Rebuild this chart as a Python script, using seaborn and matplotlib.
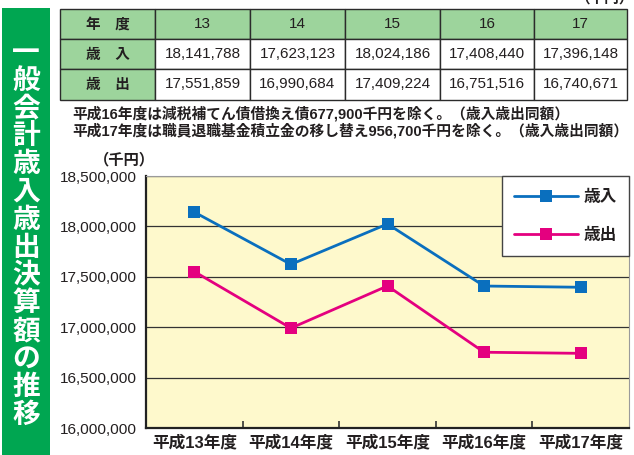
import matplotlib
matplotlib.use('Agg')
import matplotlib.pyplot as plt
from matplotlib.patches import Rectangle
from matplotlib.ticker import FixedLocator, FuncFormatter
import seaborn as sns
import pandas as pd

# ---------------- data ----------------
year_codes = ['13', '14', '15', '16', '17']
x_labels = ['平成13年度', '平成14年度', '平成15年度', '平成16年度', '平成17年度']
revenue = [18141788, 17623123, 18024186, 17408440, 17396148]
expenditure = [17551859, 16990684, 17409224, 16751516, 16740671]
series_names = ['歳入', '歳出']
row_labels = ['歳　入', '歳　出']
header_label = '年　度'
y_ticks = [16000000, 16500000, 17000000, 17500000, 18000000, 18500000]
notes = ['平成16年度は減税補てん債借換え債677,900千円を除く。（歳入歳出同額）',
         '平成17年度は職員退職基金積立金の移し替え956,700千円を除く。（歳入歳出同額）']
unit_label = '（千円）'
side_title = '一般会計歳入歳出決算額の推移'

# ---------------- style ----------------
sns.set_theme(style='white')
plt.rcParams['font.family'] = ['Liberation Sans', 'Noto Sans CJK JP']
CJK = ['Noto Sans CJK JP', 'Liberation Sans']
MIX = ['Liberation Sans', 'Noto Sans CJK JP']
blue = '#0A6FBE'
pink = '#E4007F'
green = '#00A651'
light_green = '#9DD49C'
text_c = '#231F20'

W, H = 634, 455
fig = plt.figure(figsize=(W / 100, H / 100), dpi=100)
fig.patch.set_facecolor('white')

# side bar
fig.add_artist(Rectangle((2 / W, 0), 48 / W, 1 - 8 / H, transform=fig.transFigure,
                         facecolor=green, edgecolor='none'))
for i, ch in enumerate(side_title):
    fig.text(26 / W, 1 - (53 + i * 27.8) / H, ch, ha='center', va='center',
             color='white', fontsize=20, fontweight='bold', family=CJK)

# table
ax_t = fig.add_axes([60 / W, 1 - 99.5 / H, 567 / W, 90.5 / H])
ax_t.axis('off')
cell_text = [[row_labels[0]] + [f'{v:,}' for v in revenue],
             [row_labels[1]] + [f'{v:,}' for v in expenditure]]
col_labels = [header_label] + year_codes
widths = [95, 95, 95, 95, 94, 93]
tot = sum(widths)
tbl = ax_t.table(cellText=cell_text, colLabels=col_labels, bbox=[0, 0, 1, 1],
                 colWidths=[w / tot for w in widths], cellLoc='center')
tbl.auto_set_font_size(False)
for (r, c), cell in tbl.get_celld().items():
    cell.set_edgecolor('#2b2b2b')
    cell.set_linewidth(1.0)
    t = cell.get_text()
    if r == 0 or c == 0:
        cell.set_facecolor(light_green)
    else:
        cell.set_facecolor('white')
    if c == 0:
        t.set_fontweight('bold')
        t.set_fontfamily(CJK)
        t.set_fontsize(10.5)
    else:
        t.set_fontsize(11)
        t.set_fontfamily(MIX)
    t.set_color(text_c)

# unit at top right (cut off in the reference too)
fig.text(605 / W, 1 + 2 / H, unit_label, ha='center', va='center', fontsize=10.5,
         fontweight='bold', family=CJK, color=text_c)

# notes
fig.text(72 / W, 1 - 114 / H, notes[0], ha='left', va='center', fontsize=10.6,
         fontweight='bold', family=MIX, color=text_c)
fig.text(72 / W, 1 - 130.5 / H, notes[1], ha='left', va='center', fontsize=10.6,
         fontweight='bold', family=MIX, color=text_c)
fig.text(124 / W, 1 - 159 / H, unit_label, ha='center', va='center', fontsize=11,
         fontweight='bold', family=CJK, color=text_c)

# ---------------- chart ----------------
ax = fig.add_axes([146 / W, 1 - 428 / H, 483 / W, 252 / H])
df = pd.DataFrame({
    'x': list(range(len(x_labels))) * 2,
    'value': revenue + expenditure,
    'series': [series_names[0]] * len(revenue) + [series_names[1]] * len(expenditure),
})
sns.lineplot(data=df, x='x', y='value', hue='series', style='series',
             markers=['s', 's'], dashes=False, palette=[blue, pink],
             markersize=8, linewidth=2.0, markeredgewidth=0, ax=ax)

ax.set_facecolor('#FEF9CC')
ax.set_xlim(-0.5, len(x_labels) - 0.5)
ax.set_ylim(y_ticks[0], y_ticks[-1])
ax.set_yticks(y_ticks)
ax.yaxis.set_major_formatter(FuncFormatter(lambda v, p: f'{v:,.0f}'))
ax.set_xticks(range(len(x_labels)))
ax.set_xticklabels(x_labels, fontsize=12, fontweight='bold', family=MIX, color=text_c)
ax.xaxis.set_minor_locator(FixedLocator([i + 0.5 for i in range(len(x_labels) - 1)]))
ax.tick_params(axis='x', which='major', length=0, pad=5)
ax.tick_params(axis='x', which='minor', direction='in', length=5, width=1.2,
               color='#333333', bottom=True)
ax.tick_params(axis='y', which='major', length=0, pad=6.5, labelsize=11.1, labelcolor=text_c)
for lab in ax.get_yticklabels():
    lab.set_family(['Liberation Sans'])
ax.set_xlabel('')
ax.set_ylabel('')
ax.set_axisbelow(True)
ax.yaxis.grid(True, color='#333333', linewidth=0.9)
ax.xaxis.grid(False)
for s in ['left', 'bottom']:
    ax.spines[s].set_color('#222222')
    ax.spines[s].set_linewidth(1.6)
for s in ['top', 'right']:
    ax.spines[s].set_color('#9a9a9a')
    ax.spines[s].set_linewidth(0.8)

handles, labels = ax.get_legend_handles_labels()
leg = ax.legend(handles, labels, loc='upper right', bbox_to_anchor=(1.0, 1.0),
                borderaxespad=0.0,
                frameon=True, fancybox=False, edgecolor='#444444', framealpha=1,
                handlelength=3.85, labelspacing=1.2, borderpad=0.72, handletextpad=0.35,
                prop={'family': CJK, 'weight': 'bold', 'size': 12})
leg.get_frame().set_linewidth(1.0)
for t in leg.get_texts():
    t.set_color(text_c)

fig.savefig('out.png', dpi=100)
